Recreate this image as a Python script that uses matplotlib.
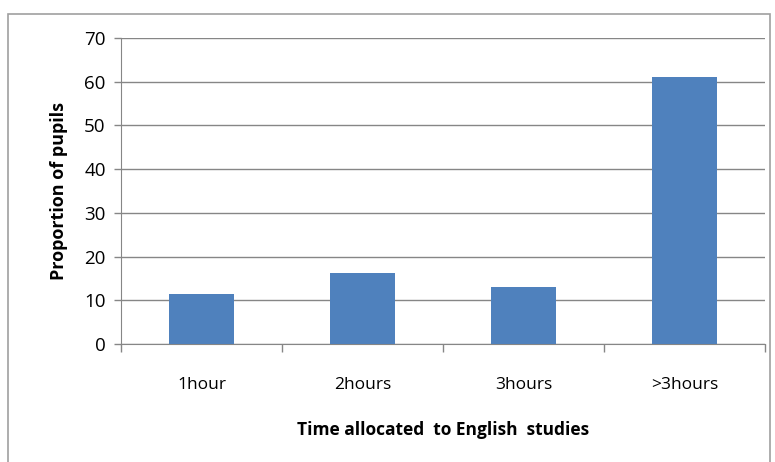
import matplotlib
matplotlib.use('Agg')
import matplotlib.pyplot as plt
from matplotlib.patches import Rectangle

categories = ['1hour', '2hours', '3hours', '>3hours']
values = [11.4, 16.2, 13.0, 61.0]

plt.rcParams['font.family'] = ['Open Sans', 'DejaVu Sans']

fig = plt.figure(figsize=(7.75, 4.62), dpi=100)
# outer chart border (bottom edge cut off in the reference)
fig.patches.append(Rectangle((8 / 775, -0.05), 762 / 775, 1.05 - 14 / 462,
                             transform=fig.transFigure, fill=False,
                             edgecolor='#a0a0a0', linewidth=1.2))

ax = fig.add_axes([121 / 775, 1 - 344 / 462, 644 / 775, 306 / 462])
x = range(len(categories))
ax.bar(x, values, width=0.4, color='#4f81bd', zorder=3)

ax.set_xlim(-0.5, len(categories) - 0.5)
ax.set_ylim(0, 70)
ax.set_yticks(range(0, 71, 10))
ax.yaxis.grid(True, color='#868686', linewidth=1.0, zorder=0)

ax.set_xticks([i - 0.5 for i in range(len(categories) + 1)], minor=False)
ax.set_xticklabels([])
ax.set_xticks(list(x), minor=True)
ax.set_xticklabels(categories, minor=True, fontsize=12.5)
ax.tick_params(axis='x', which='major', length=6, color='#868686', width=1.0)
ax.tick_params(axis='x', which='minor', length=0, pad=24)
ax.tick_params(axis='y', length=5, color='#868686', width=1.0, labelsize=13.5, pad=6)

for side in ['top', 'right']:
    ax.spines[side].set_visible(False)
ax.spines['left'].set_color('#868686')
ax.spines['bottom'].set_color('#868686')

ax.set_xlabel('Time allocated  to English  studies', fontsize=12.5,
              fontweight='bold', labelpad=20)
ax.set_ylabel('Proportion of pupils', fontsize=13, fontweight='bold',
              labelpad=12)

plt.savefig('out.png')
